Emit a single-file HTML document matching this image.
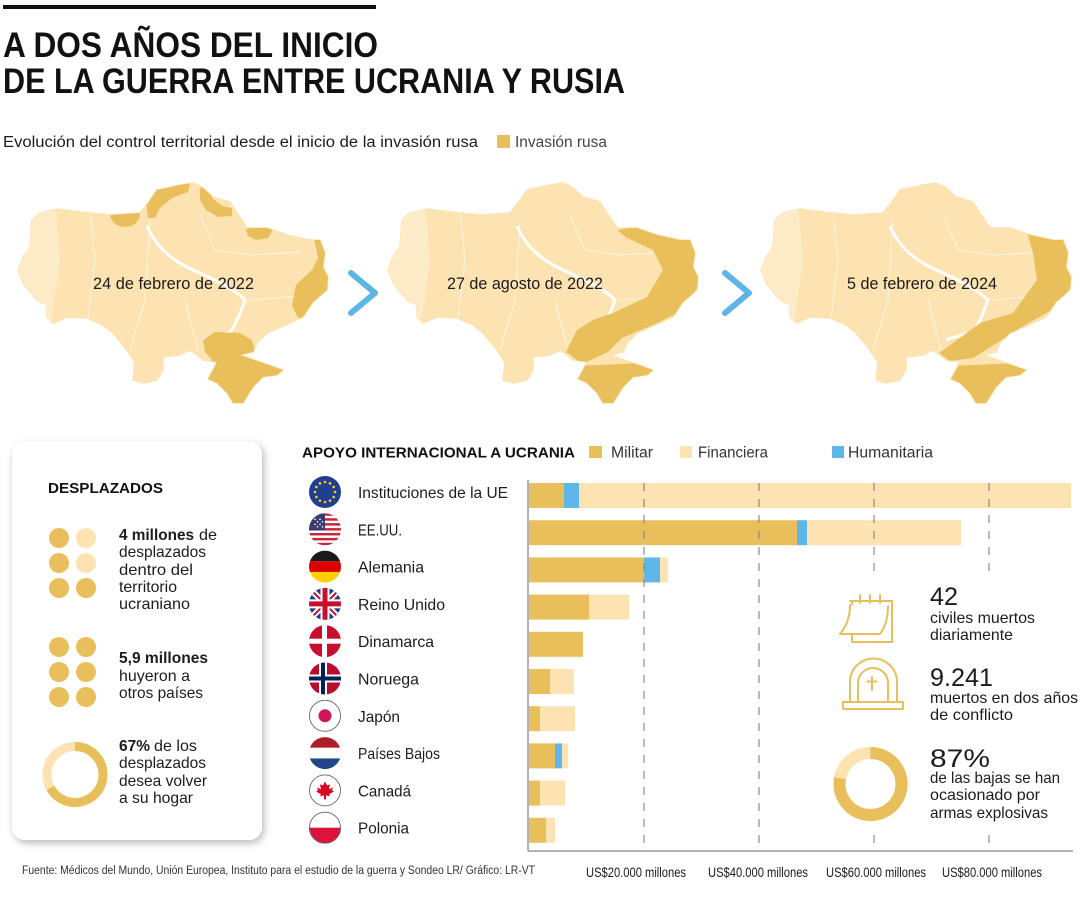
<!DOCTYPE html>
<html><head><meta charset="utf-8">
<style>
html,body{margin:0;padding:0;background:#fff}
svg{display:block}
text{font-family:"Liberation Sans",sans-serif;fill:#1c1c1c}
</style></head>
<body>
<svg width="1080" height="900" viewBox="0 0 1080 900" xmlns="http://www.w3.org/2000/svg">
<defs>
<clipPath id="ua"><path d="M18,270 L23,257 L30,247 L32,220 L40,213 L57,209 L80,212 L110,215 L140,213 L148,203 L157,190 L180,185 L193,183 L202,187 L213,197 L230,202 L237,213 L247,228 L267,228 L287,235 L310,240 L320,240 L325,253 L323,267 L328,277 L327,290 L313,302 L303,317 L290,323 L267,333 L257,343 L253,352 L240,355 L283,370 L277,375 L263,377 L253,387 L243,403 L233,403 L227,393 L217,383 L208,379 L213,370 L217,362 L203,360 L197,355 L190,350 L180,355 L163,357 L163,370 L157,380 L143,383 L133,380 L135,363 L127,350 L113,333 L103,325 L87,318 L67,317 L53,323 L47,317 L47,305 L37,300 L23,283 Z"/></clipPath>
<clipPath id="fc"><circle cx="0" cy="0" r="16"/></clipPath>
<filter id="sh" x="-10%" y="-10%" width="130%" height="130%"><feDropShadow dx="2" dy="3" stdDeviation="4" flood-color="#000" flood-opacity="0.28"/></filter>
<g id="base">
 <path d="M18,270 L23,257 L30,247 L32,220 L40,213 L57,209 L80,212 L110,215 L140,213 L148,203 L157,190 L180,185 L193,183 L202,187 L213,197 L230,202 L237,213 L247,228 L267,228 L287,235 L310,240 L320,240 L325,253 L323,267 L328,277 L327,290 L313,302 L303,317 L290,323 L267,333 L257,343 L253,352 L240,355 L283,370 L277,375 L263,377 L253,387 L243,403 L233,403 L227,393 L217,383 L208,379 L213,370 L217,362 L203,360 L197,355 L190,350 L180,355 L163,357 L163,370 L157,380 L143,383 L133,380 L135,363 L127,350 L113,333 L103,325 L87,318 L67,317 L53,323 L47,317 L47,305 L37,300 L23,283 Z" fill="#fde3b1" stroke="#fde3b1" stroke-width="1.5" stroke-linejoin="round"/>
 <g clip-path="url(#ua)">
  <path d="M0,200 L55,205 L60,260 L50,330 L0,330 Z" fill="#feebc8"/>
  <path d="M147,226 C155,245 170,258 185,266 C205,276 230,285 245,300 C240,315 235,325 230,332 C220,335 210,337 203,340" fill="none" stroke="#fff" stroke-width="3"/>
  <path d="M90,212 L95,260 L88,318 M150,220 L145,300 L130,350 M200,215 L215,250 L250,255 L300,252 M185,300 L198,350 M250,300 L300,296" fill="none" stroke="#fff" stroke-width="0.9" opacity="0.7"/>
 </g>
</g>
</defs>

<!-- Title -->
<rect x="3" y="5" width="373" height="4" fill="#111"/>
<text x="3" y="57" font-size="35" font-weight="bold" textLength="375" lengthAdjust="spacingAndGlyphs" style="fill:#111">A DOS AÑOS DEL INICIO</text>
<text x="3" y="93" font-size="35" font-weight="bold" textLength="622" lengthAdjust="spacingAndGlyphs" style="fill:#111">DE LA GUERRA ENTRE UCRANIA Y RUSIA</text>
<text x="3" y="147" font-size="15.5" textLength="475" lengthAdjust="spacingAndGlyphs">Evolución del control territorial desde el inicio de la invasión rusa</text>
<rect x="497" y="135" width="13" height="13" fill="#e9bf5c"/>
<text x="515" y="147" font-size="15.5" textLength="92" lengthAdjust="spacingAndGlyphs" style="fill:#444">Invasión rusa</text>

<!-- Map 1 -->
<g>
 <use href="#base"/>
 <g clip-path="url(#ua)" fill="#e9bf5c">
  <ellipse cx="125" cy="214" rx="15" ry="13"/>
  <path d="M148,218 L146,200 L155,188 L175,183 L190,183 L188,192 L172,198 L160,208 L155,218 Z"/>
  <path d="M200,188 L210,186 L212,198 L222,206 L232,208 L232,216 L218,217 L206,210 L200,200 Z"/>
  <path d="M246,229 L262,224 L274,228 L268,238 L256,240 L248,236 Z"/>
  <path d="M314,238 L326,238 L332,262 L332,300 L318,305 L308,318 L298,318 L292,305 L296,285 L312,270 L318,258 Z"/>
  <path d="M203,340 L215,332 L240,333 L252,340 L256,355 L300,365 L300,420 L200,420 L205,368 L212,360 L205,352 Z"/>
 </g>
</g>
<!-- Map 2 -->
<g transform="translate(370,0)">
 <use href="#base"/>
 <g clip-path="url(#ua)" fill="#e9bf5c">
  <path d="M247,230 L270,226 L300,232 L330,238 L335,277 L310,312 L283,325 L252,338 L238,352 L212,364 L196,352 L207,330 L223,320 L243,313 L277,297 L293,270 L283,250 L257,238 Z"/>
  <path d="M205,366 L300,362 L300,420 L200,420 Z"/>
 </g>
</g>
<!-- Map 3 -->
<g transform="translate(743,0)">
 <use href="#base"/>
 <g clip-path="url(#ua)" fill="#e9bf5c">
  <path d="M284,232 L324,240 L335,280 L307,311 L277,328 L257,341 L230,358 L207,361 L196,353 L210,343 L237,323 L270,313 L294,280 L290,253 Z"/>
  <path d="M205,366 L300,362 L300,420 L200,420 Z"/>
 </g>
</g>
<text x="93" y="289" font-size="17" textLength="161" lengthAdjust="spacingAndGlyphs">24 de febrero de 2022</text>
<text x="447" y="289" font-size="17" textLength="156" lengthAdjust="spacingAndGlyphs">27 de agosto de 2022</text>
<text x="847" y="289" font-size="17" textLength="150" lengthAdjust="spacingAndGlyphs">5 de febrero de 2024</text>
<polyline points="351,273 375,293 351,313" fill="none" stroke="#5db4e6" stroke-width="6" stroke-linecap="round" stroke-linejoin="round"/>
<polyline points="725,273 749,293 725,313" fill="none" stroke="#5db4e6" stroke-width="6" stroke-linecap="round" stroke-linejoin="round"/>

<!-- Left box -->
<rect x="12" y="441" width="250" height="399" rx="13" fill="#fff" filter="url(#sh)"/>
<text x="48" y="493" font-size="15" font-weight="bold" textLength="115" lengthAdjust="spacingAndGlyphs" style="fill:#111">DESPLAZADOS</text>
<g fill="#e9bf5c">
 <circle cx="59" cy="538" r="10"/><circle cx="86" cy="538" r="10" fill="#fde3b1"/>
 <circle cx="59" cy="563" r="10"/><circle cx="86" cy="563" r="10" fill="#fde3b1"/>
 <circle cx="59" cy="588" r="10"/><circle cx="86" cy="588" r="10"/>
 <circle cx="59" cy="647" r="10"/><circle cx="86" cy="647" r="10"/>
 <circle cx="59" cy="672" r="10"/><circle cx="86" cy="672" r="10"/>
 <circle cx="59" cy="697" r="10"/><circle cx="86" cy="697" r="10"/>
</g>
<g font-size="16">
 <text x="119" y="540" font-weight="bold" textLength="75" lengthAdjust="spacingAndGlyphs">4 millones</text>
 <text x="199" y="540" textLength="18" lengthAdjust="spacingAndGlyphs">de</text>
 <text x="119" y="557" textLength="87" lengthAdjust="spacingAndGlyphs">desplazados</text>
 <text x="119" y="575" textLength="74" lengthAdjust="spacingAndGlyphs">dentro del</text>
 <text x="119" y="592" textLength="58" lengthAdjust="spacingAndGlyphs">territorio</text>
 <text x="119" y="609" textLength="71" lengthAdjust="spacingAndGlyphs">ucraniano</text>
 <text x="119" y="663" font-weight="bold" textLength="89" lengthAdjust="spacingAndGlyphs">5,9 millones</text>
 <text x="119" y="681" textLength="71" lengthAdjust="spacingAndGlyphs">huyeron a</text>
 <text x="119" y="698" textLength="84" lengthAdjust="spacingAndGlyphs">otros países</text>
 <text x="119" y="751" font-weight="bold" textLength="31" lengthAdjust="spacingAndGlyphs">67%</text>
 <text x="154" y="751" textLength="43" lengthAdjust="spacingAndGlyphs">de los</text>
 <text x="119" y="768" textLength="87" lengthAdjust="spacingAndGlyphs">desplazados</text>
 <text x="119" y="786" textLength="88" lengthAdjust="spacingAndGlyphs">desea volver</text>
 <text x="119" y="803" textLength="74" lengthAdjust="spacingAndGlyphs">a su hogar</text>
</g>
<circle cx="75" cy="774.5" r="28" fill="none" stroke="#fde3b1" stroke-width="9"/>
<path d="M75,746.5 A28,28 0 1 1 50.5,788" fill="none" stroke="#e9bf5c" stroke-width="9"/>

<!-- Bar chart header -->
<text x="302" y="457.5" font-size="15" font-weight="bold" textLength="273" lengthAdjust="spacingAndGlyphs" style="fill:#111">APOYO INTERNACIONAL A UCRANIA</text>
<rect x="589" y="446" width="13" height="12" fill="#e9bf5c"/>
<text x="611" y="457.5" font-size="15.5" textLength="42" lengthAdjust="spacingAndGlyphs" style="fill:#333">Militar</text>
<rect x="680" y="446" width="12" height="12" fill="#fde3b1"/>
<text x="698" y="457.5" font-size="15.5" textLength="70" lengthAdjust="spacingAndGlyphs" style="fill:#333">Financiera</text>
<rect x="832" y="446" width="12" height="12" fill="#5db7e8"/>
<text x="848" y="457.5" font-size="15.5" textLength="85" lengthAdjust="spacingAndGlyphs" style="fill:#333">Humanitaria</text>

<!-- Bars -->
<g>
 <rect x="529" y="483" width="35" height="25" fill="#e9bf5c"/><rect x="564" y="483" width="15" height="25" fill="#5db7e8"/><rect x="579" y="483" width="492" height="25" fill="#fde3b1"/>
 <rect x="529" y="520.2" width="268" height="25" fill="#e9bf5c"/><rect x="797" y="520.2" width="10" height="25" fill="#5db7e8"/><rect x="807" y="520.2" width="154" height="25" fill="#fde3b1"/>
 <rect x="529" y="557.4" width="115" height="25" fill="#e9bf5c"/><rect x="644" y="557.4" width="16" height="25" fill="#5db7e8"/><rect x="660" y="557.4" width="8" height="25" fill="#fde3b1"/>
 <rect x="529" y="594.6" width="60" height="25" fill="#e9bf5c"/><rect x="589" y="594.6" width="40" height="25" fill="#fde3b1"/>
 <rect x="529" y="631.8" width="54" height="25" fill="#e9bf5c"/>
 <rect x="529" y="669" width="21" height="25" fill="#e9bf5c"/><rect x="550" y="669" width="24" height="25" fill="#fde3b1"/>
 <rect x="529" y="706.2" width="11" height="25" fill="#e9bf5c"/><rect x="540" y="706.2" width="35" height="25" fill="#fde3b1"/>
 <rect x="529" y="743.4" width="26" height="25" fill="#e9bf5c"/><rect x="555" y="743.4" width="7" height="25" fill="#5db7e8"/><rect x="562" y="743.4" width="6" height="25" fill="#fde3b1"/>
 <rect x="529" y="780.6" width="11" height="25" fill="#e9bf5c"/><rect x="540" y="780.6" width="25" height="25" fill="#fde3b1"/>
 <rect x="529" y="817.8" width="17" height="25" fill="#e9bf5c"/><rect x="546" y="817.8" width="9" height="25" fill="#fde3b1"/>
</g>
<!-- Grid -->
<g stroke="#8a8a8a" stroke-width="1.2" stroke-dasharray="8 8">
 <line x1="644" y1="483" x2="644" y2="851"/>
 <line x1="759" y1="483" x2="759" y2="851"/>
 <line x1="874" y1="483" x2="874" y2="851"/>
 <line x1="989" y1="483" x2="989" y2="851"/>
</g>
<rect x="832" y="579" width="248" height="253" fill="#fff"/>
<line x1="528" y1="480" x2="528" y2="851" stroke="#999" stroke-width="1.5"/>
<line x1="528" y1="851" x2="1073" y2="851" stroke="#999" stroke-width="1.5"/>
<g font-size="14" style="fill:#222">
 <text x="586" y="877" textLength="100" lengthAdjust="spacingAndGlyphs">US$20.000 millones</text>
 <text x="708" y="877" textLength="100" lengthAdjust="spacingAndGlyphs">US$40.000 millones</text>
 <text x="826" y="877" textLength="100" lengthAdjust="spacingAndGlyphs">US$60.000 millones</text>
 <text x="942" y="877" textLength="100" lengthAdjust="spacingAndGlyphs">US$80.000 millones</text>
</g>
<text x="22" y="874" font-size="11.5" textLength="513" lengthAdjust="spacingAndGlyphs" style="fill:#333">Fuente: Médicos del Mundo, Unión Europea, Instituto para el estudio de la guerra y Sondeo LR/ Gráfico: LR-VT</text>

<!-- Country labels -->
<g font-size="16" style="fill:#333">
 <text x="358" y="498" textLength="150" lengthAdjust="spacingAndGlyphs">Instituciones de la UE</text>
 <text x="358" y="535.3" textLength="44" lengthAdjust="spacingAndGlyphs">EE.UU.</text>
 <text x="358" y="572.6" textLength="66" lengthAdjust="spacingAndGlyphs">Alemania</text>
 <text x="358" y="609.9" textLength="87" lengthAdjust="spacingAndGlyphs">Reino Unido</text>
 <text x="358" y="647.2" textLength="76" lengthAdjust="spacingAndGlyphs">Dinamarca</text>
 <text x="358" y="684.5" textLength="61" lengthAdjust="spacingAndGlyphs">Noruega</text>
 <text x="358" y="721.8" textLength="42" lengthAdjust="spacingAndGlyphs">Japón</text>
 <text x="358" y="759.1" textLength="82" lengthAdjust="spacingAndGlyphs">Países Bajos</text>
 <text x="358" y="796.4" textLength="53" lengthAdjust="spacingAndGlyphs">Canadá</text>
 <text x="358" y="833.7" textLength="51" lengthAdjust="spacingAndGlyphs">Polonia</text>
</g>

<!-- Flags -->
<g transform="translate(325,492)">
 <circle r="16" fill="#213f92"/>
 <g fill="#f7d417">
  <circle cx="0" cy="-10" r="1.3"/><circle cx="5" cy="-8.66" r="1.3"/><circle cx="8.66" cy="-5" r="1.3"/><circle cx="10" cy="0" r="1.3"/><circle cx="8.66" cy="5" r="1.3"/><circle cx="5" cy="8.66" r="1.3"/><circle cx="0" cy="10" r="1.3"/><circle cx="-5" cy="8.66" r="1.3"/><circle cx="-8.66" cy="5" r="1.3"/><circle cx="-10" cy="0" r="1.3"/><circle cx="-8.66" cy="-5" r="1.3"/><circle cx="-5" cy="-8.66" r="1.3"/>
 </g>
</g>
<g transform="translate(325,529.3)">
 <g clip-path="url(#fc)">
  <rect x="-16" y="-16" width="32" height="32" fill="#fff"/>
  <g fill="#c9253a">
   <rect x="-16" y="-16" width="32" height="2.46"/><rect x="-16" y="-11.08" width="32" height="2.46"/><rect x="-16" y="-6.15" width="32" height="2.46"/><rect x="-16" y="-1.23" width="32" height="2.46"/><rect x="-16" y="3.69" width="32" height="2.46"/><rect x="-16" y="8.62" width="32" height="2.46"/><rect x="-16" y="13.54" width="32" height="2.46"/>
  </g>
  <rect x="-16" y="-16" width="16" height="17.2" fill="#3c3b6e"/>
  <g fill="#fff"><circle cx="-10" cy="-10" r="0.8"/><circle cx="-5" cy="-10" r="0.8"/><circle cx="-10" cy="-5" r="0.8"/><circle cx="-5" cy="-5" r="0.8"/><circle cx="-7.5" cy="-7.5" r="0.8"/><circle cx="-2.5" cy="-7.5" r="0.8"/><circle cx="-7.5" cy="-2.5" r="0.8"/><circle cx="-2.5" cy="-2.5" r="0.8"/></g>
 </g>
</g>
<g transform="translate(325,566.6)">
 <g clip-path="url(#fc)">
  <rect x="-16" y="-16" width="32" height="10.7" fill="#1a1a1a"/>
  <rect x="-16" y="-5.33" width="32" height="10.7" fill="#dd0000"/>
  <rect x="-16" y="5.33" width="32" height="10.7" fill="#ffce00"/>
 </g>
</g>
<g transform="translate(325,603.9)">
 <g clip-path="url(#fc)">
  <rect x="-16" y="-16" width="32" height="32" fill="#1d3b86"/>
  <path d="M-16,-16 L16,16 M16,-16 L-16,16" stroke="#fff" stroke-width="6"/>
  <path d="M-16,-16 L16,16 M16,-16 L-16,16" stroke="#c8102e" stroke-width="2"/>
  <path d="M0,-16 V16 M-16,0 H16" stroke="#fff" stroke-width="9"/>
  <path d="M0,-16 V16 M-16,0 H16" stroke="#c8102e" stroke-width="5"/>
 </g>
</g>
<g transform="translate(325,641.2)">
 <g clip-path="url(#fc)">
  <rect x="-16" y="-16" width="32" height="32" fill="#c8102e"/>
  <rect x="-3" y="-16" width="5" height="32" fill="#fff"/>
  <rect x="-16" y="-2.5" width="32" height="5" fill="#fff"/>
 </g>
</g>
<g transform="translate(325,678.5)">
 <g clip-path="url(#fc)">
  <rect x="-16" y="-16" width="32" height="32" fill="#ba0c2f"/>
  <rect x="-6" y="-16" width="8" height="32" fill="#fff"/>
  <rect x="-16" y="-4" width="32" height="8" fill="#fff"/>
  <rect x="-4" y="-16" width="4" height="32" fill="#00205b"/>
  <rect x="-16" y="-2" width="32" height="4" fill="#00205b"/>
 </g>
</g>
<g transform="translate(325,715.8)">
 <circle r="15.5" fill="#fff" stroke="#666" stroke-width="0.9"/>
 <circle r="6.5" fill="#d3145a"/>
</g>
<g transform="translate(325,753.1)">
 <g clip-path="url(#fc)">
  <rect x="-16" y="-16" width="32" height="10.7" fill="#ae1c28"/>
  <rect x="-16" y="-5.33" width="32" height="10.7" fill="#fff"/>
  <rect x="-16" y="5.33" width="32" height="10.7" fill="#21468b"/>
 </g>
</g>
<g transform="translate(325,790.4)">
 <circle r="15.5" fill="#fff" stroke="#666" stroke-width="0.9"/>
 <polygon points="0,-9 2,-5 5,-6 4,-1 8,-3 7,0 9,1 4,4 5,6 1,5 1,9 -1,9 -1,5 -5,6 -4,4 -9,1 -7,0 -8,-3 -4,-1 -5,-6 -2,-5" fill="#d80621"/>
</g>
<g transform="translate(325,827.7)">
 <g clip-path="url(#fc)">
  <rect x="-16" y="-16" width="32" height="16" fill="#fff"/>
  <rect x="-16" y="0" width="32" height="16" fill="#dc143c"/>
 </g>
 <circle r="15.5" fill="none" stroke="#666" stroke-width="0.9"/>
</g>

<!-- Right stats -->
<g fill="none" stroke="#e9be5c" stroke-width="2" stroke-linejoin="round" stroke-linecap="round">
 <rect x="852" y="601" width="40" height="41" fill="#fff"/>
 <line x1="850" y1="601" x2="892" y2="601"/>
 <line x1="860" y1="595" x2="860" y2="603"/><line x1="870" y1="595" x2="870" y2="603"/><line x1="880" y1="595" x2="880" y2="603"/>
 <path d="M850,605 C850,617 846,627 840,634 L880,634 C886,626 888,616 888,606" fill="#fff"/>
 <path d="M850,702 V682 A23.5,23.5 0 0 1 897,682 V702"/>
 <path d="M858,702 V683 A15,15 0 0 1 888,683 V702"/>
 <rect x="843" y="702" width="60" height="7"/>
 <line x1="872" y1="677" x2="872" y2="690"/>
 <line x1="867.5" y1="681.5" x2="876.5" y2="681.5"/>
</g>
<circle cx="870.5" cy="784" r="31" fill="none" stroke="#fde3b1" stroke-width="12"/>
<path d="M870.5,753 A31,31 0 1 1 840.1,778.1" fill="none" stroke="#e9bf5c" stroke-width="12"/>
<g style="fill:#111">
 <text x="930" y="605" font-size="25" textLength="28" lengthAdjust="spacingAndGlyphs">42</text>
 <text x="930" y="686" font-size="25" textLength="63" lengthAdjust="spacingAndGlyphs">9.241</text>
 <text x="930" y="767" font-size="25" textLength="60" lengthAdjust="spacingAndGlyphs">87%</text>
</g>
<g font-size="16" style="fill:#333">
 <text x="930" y="623" textLength="105" lengthAdjust="spacingAndGlyphs">civiles muertos</text>
 <text x="930" y="640" textLength="83" lengthAdjust="spacingAndGlyphs">diariamente</text>
 <text x="930" y="703" textLength="148" lengthAdjust="spacingAndGlyphs">muertos en dos años</text>
 <text x="930" y="720" textLength="83" lengthAdjust="spacingAndGlyphs">de conflicto</text>
 <text x="930" y="783" textLength="130" lengthAdjust="spacingAndGlyphs">de las bajas se han</text>
 <text x="930" y="800" textLength="110" lengthAdjust="spacingAndGlyphs">ocasionado por</text>
 <text x="930" y="818" textLength="118" lengthAdjust="spacingAndGlyphs">armas explosivas</text>
</g>
</svg>
</body></html>
